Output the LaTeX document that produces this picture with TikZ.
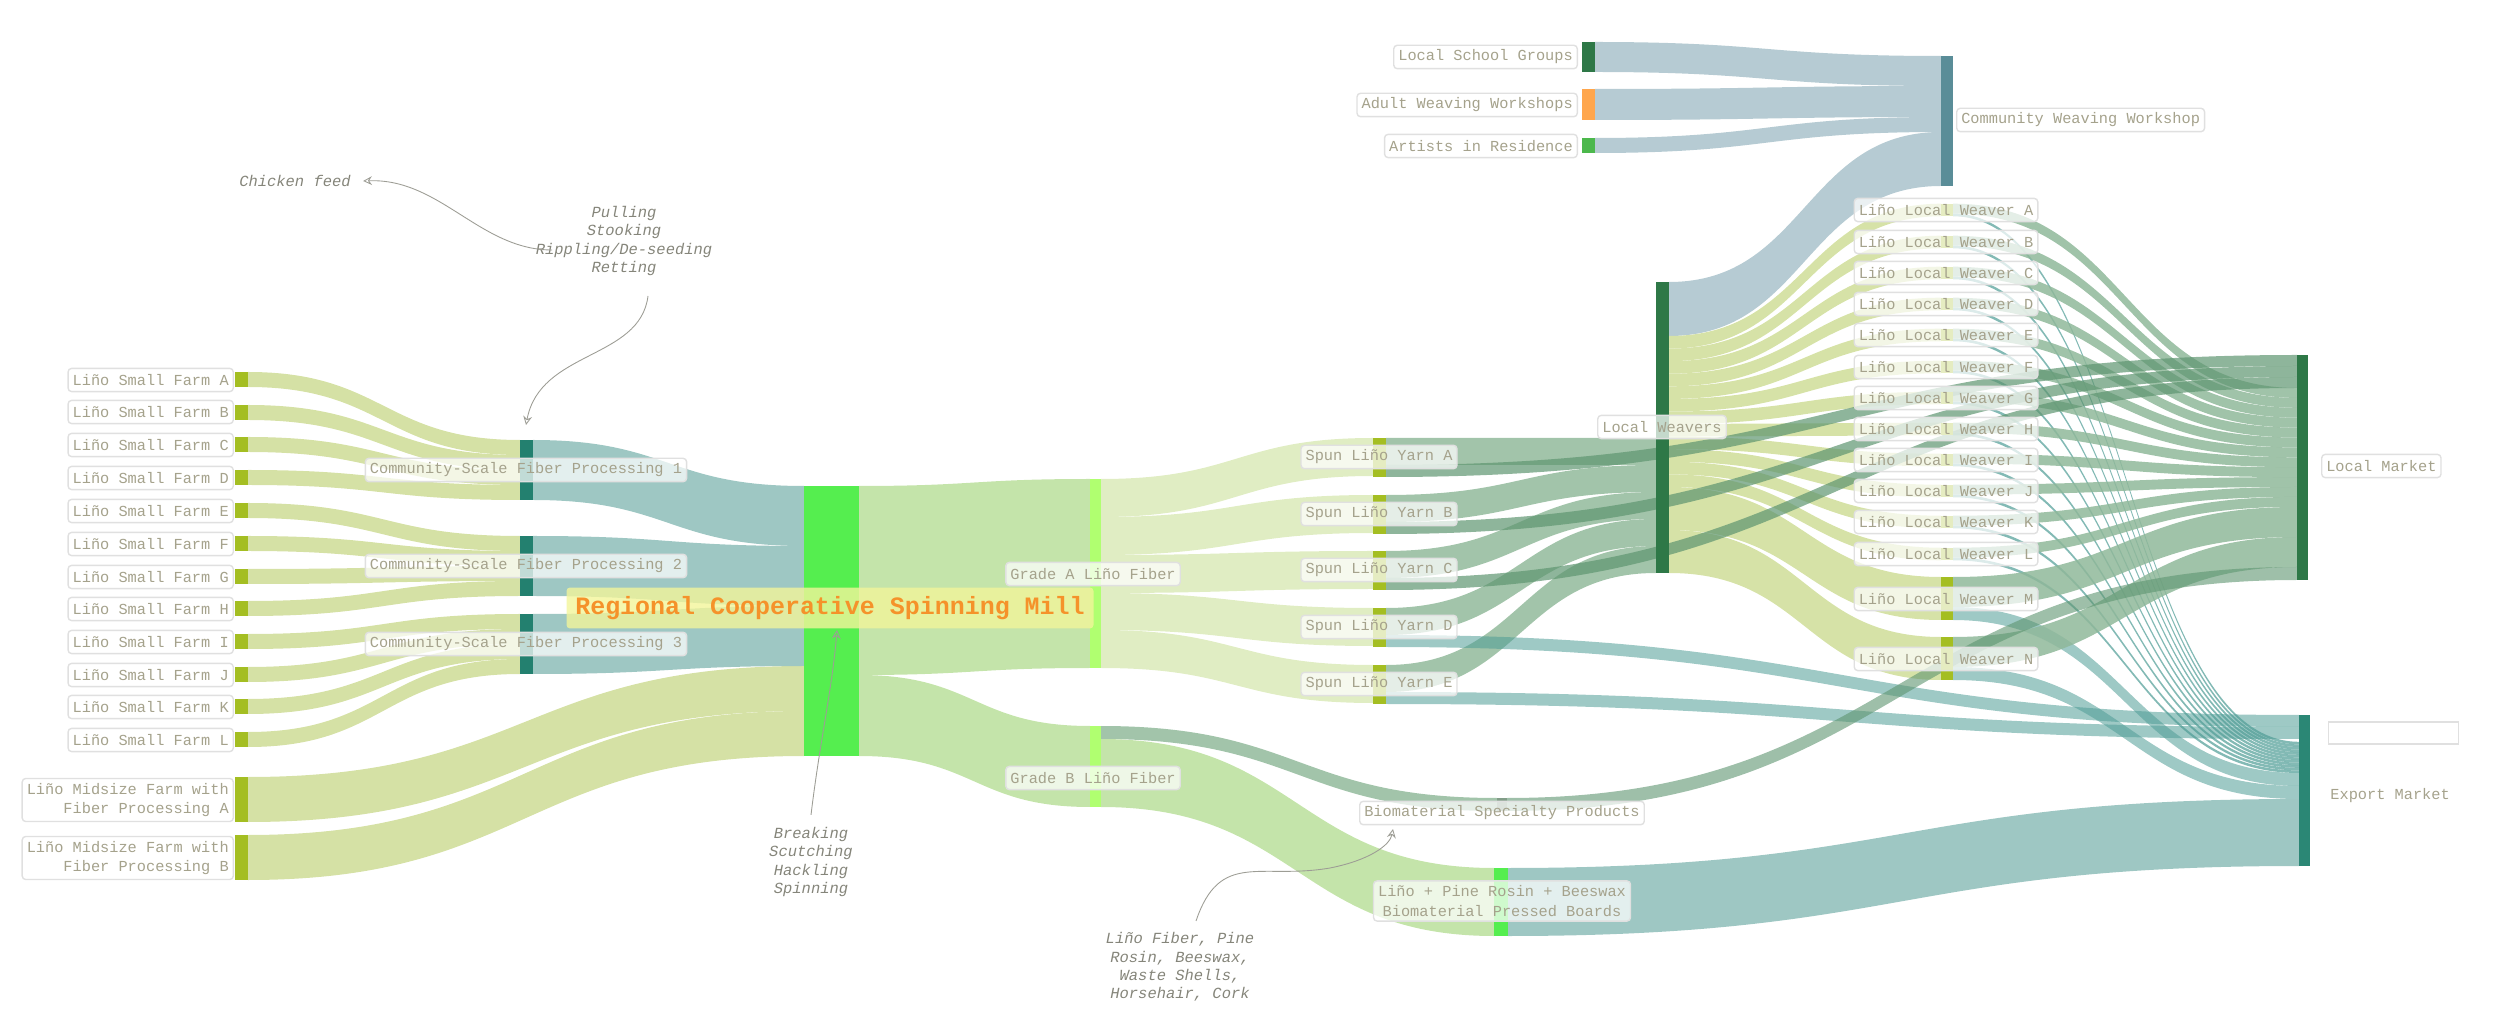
\documentclass[tikz,border=0pt]{standalone}
\usepackage{fontspec}
\setmonofont{Liberation Mono}
\usetikzlibrary{arrows.meta}
\definecolor{farmflow}{HTML}{D5E1A5}
\definecolor{farmnode}{HTML}{A4BE22}
\definecolor{csfpnode}{HTML}{23806F}
\definecolor{tealflow}{HTML}{9EC7C3}
\definecolor{millnode}{HTML}{55EE4F}
\definecolor{millflow}{HTML}{C4E4AA}
\definecolor{gradenode}{HTML}{B0FF70}
\definecolor{yarnflow}{HTML}{E0EDC3}
\definecolor{ylw}{HTML}{A2C4AA}
\definecolor{ylm}{HTML}{5E9570}
\definecolor{lwnode}{HTML}{2E7847}
\definecolor{cwwflow}{HTML}{B6CBD3}
\definecolor{cwwnode}{HTML}{5A8D98}
\definecolor{lwflow}{HTML}{D6E2A7}
\definecolor{toLM}{HTML}{8FB89A}
\definecolor{toEX}{HTML}{4E9C95}
\definecolor{exnode}{HTML}{2B8775}
\definecolor{labc}{HTML}{A5A28C}
\definecolor{annc}{HTML}{85857A}
\definecolor{millfill}{HTML}{F2F59A}
\definecolor{millt}{HTML}{F5922A}
\newcommand\sflow[7]{\fill[#1] (#2,#3) .. controls ({(#2+#5)/2},#3) and ({(#2+#5)/2},#6) .. (#5,#6) -- (#5,#7) .. controls ({(#2+#5)/2},#7) and ({(#2+#5)/2},#4) .. (#2,#4) -- cycle;}
\tikzset{
 lab/.style={draw=black!12, fill=white, fill opacity=0.72, text opacity=1, rounded corners=1pt, inner sep=1.3pt, minimum height=6.6pt, text=labc, font=\ttfamily\fontsize{4.35}{5.6}\selectfont},
 ann/.style={text=annc, font=\ttfamily\itshape\fontsize{4.4}{5.2}\selectfont, align=center},
 aarr/.style={draw=annc!80, line width=0.25pt, -{Stealth[open,length=2.5pt,width=2.5pt]}}
}
\begin{document}
\begin{tikzpicture}[x=0.01cm,y=-0.01cm]
\useasboundingbox (0,0) rectangle (2500,1022);
% farm flows
\sflow{farmflow}{248}{372}{387}{520}{440}{455}
\sflow{farmflow}{248}{405}{420}{520}{455}{470}
\sflow{farmflow}{248}{437}{452}{520}{470}{485}
\sflow{farmflow}{248}{470}{485}{520}{485}{500}
\sflow{farmflow}{248}{503}{518}{520}{536}{551}
\sflow{farmflow}{248}{536}{551}{520}{551}{566}
\sflow{farmflow}{248}{569}{584}{520}{566}{581}
\sflow{farmflow}{248}{601}{616}{520}{581}{596}
\sflow{farmflow}{248}{634}{649}{520}{614}{629}
\sflow{farmflow}{248}{667}{682}{520}{629}{644}
\sflow{farmflow}{248}{699}{714}{520}{644}{659}
\sflow{farmflow}{248}{732}{747}{520}{659}{674}
\sflow{farmflow}{248}{777}{822}{804}{666}{711}
\sflow{farmflow}{248}{835}{880}{804}{711}{756}
% csfp to mill
\sflow{tealflow}{533}{440}{500}{804}{486}{546}
\sflow{tealflow}{533}{536}{596}{804}{546}{606}
\sflow{tealflow}{533}{614}{674}{804}{606}{666}
% mill out
\sflow{millflow}{859}{486}{675}{1090}{479}{668}
\sflow{millflow}{859}{675}{756}{1090}{726}{807}
% grade A to yarns
\sflow{yarnflow}{1101}{479}{517}{1373}{438}{476}
\sflow{yarnflow}{1101}{517}{555}{1373}{495}{533}
\sflow{yarnflow}{1101}{555}{593}{1373}{551}{589}
\sflow{yarnflow}{1101}{593}{630}{1373}{608}{646}
\sflow{yarnflow}{1101}{630}{668}{1373}{665}{703}
% grade B
\sflow{ylw}{1101}{726}{739}{1497}{798}{811}
\sflow{millflow}{1101}{739}{807}{1494}{868}{936}
% yarn to LW
\sflow{ylw}{1386}{438}{465}{1656}{438}{465}
\sflow{ylw}{1386}{495}{522}{1656}{465}{492}
\sflow{ylw}{1386}{551}{578}{1656}{492}{519}
\sflow{ylw}{1386}{608}{635}{1656}{519}{546}
\sflow{ylw}{1386}{665}{692}{1656}{546}{573}
% CWW inputs
\sflow{cwwflow}{1595}{42}{72}{1941}{56}{86}
\sflow{cwwflow}{1595}{89}{120}{1941}{86}{117}
\sflow{cwwflow}{1595}{138}{153}{1941}{117}{132}
\sflow{cwwflow}{1669}{282}{336}{1941}{132}{186}
% LW to weavers
\foreach \c [count=\i from 0] in {210,242,273,304,335,367,398,429,460,491,522,554} {
 \pgfmathsetmacro\lt{336+12.58*\i}
 \pgfmathsetmacro\lb{\lt+12.58}
 \pgfmathsetmacro\nt{\c-6.29}
 \pgfmathsetmacro\nb{\c+6.29}
 \sflow{lwflow}{1669}{\lt}{\lb}{1941}{\nt}{\nb}
}
\sflow{lwflow}{1669}{487}{530}{1941}{577}{620}
\sflow{lwflow}{1669}{530}{573}{1941}{637}{680}
% weaver outputs
\foreach \c [count=\i from 0] in {210,242,273,304,335,367,398,429,460,491,522,554} {
 \pgfmathsetmacro\nt{\c-6.29}
 \pgfmathsetmacro\nb{\c+6.29}
 \pgfmathsetmacro\nm{\nt+9.9}
 \pgfmathsetmacro\mt{388+9.9*\i}
 \pgfmathsetmacro\mb{\mt+9.9}
 \pgfmathsetmacro\et{741.8+2.6*\i}
 \pgfmathsetmacro\eb{\et+2.6}
 \sflow{toLM,fill opacity=.85}{1953}{\nt}{\nm}{2297}{\mt}{\mb}
 \sflow{toEX,fill opacity=.7}{1953}{\nm}{\nb}{2299}{\et}{\eb}
}
\sflow{toLM,fill opacity=.85}{1953}{577}{607}{2297}{507}{537}
\sflow{toEX,fill opacity=.55}{1953}{607}{620}{2299}{773}{786}
\sflow{toLM,fill opacity=.85}{1953}{637}{667}{2297}{537}{567}
\sflow{toEX,fill opacity=.55}{1953}{667}{680}{2299}{786}{799}
% yarn to LM / export
\sflow{ylm,fill opacity=.7}{1386}{465}{477}{2297}{355}{366}
\sflow{ylm,fill opacity=.7}{1386}{522}{534}{2297}{366}{377}
\sflow{ylm,fill opacity=.7}{1386}{578}{590}{2297}{377}{388}
\sflow{toEX,fill opacity=.55}{1386}{635}{647}{2299}{715}{727}
\sflow{toEX,fill opacity=.55}{1386}{692}{704}{2299}{727}{739}
% BSP to LM, boards to export
\sflow{ylm,fill opacity=.6}{1507}{798}{811}{2297}{567}{580}
\sflow{tealflow}{1508}{868}{936}{2299}{799}{866}
% nodes
\foreach \t/\b in {372/387,405/420,437/452,470/485,503/518,536/551,569/584,601/616,634/649,667/682,699/714,732/747,777/822,835/880}
 \fill[farmnode] (235,\t) rectangle (248,\b);
\foreach \t/\b in {440/500,536/596,614/674} \fill[csfpnode] (520,\t) rectangle (533,\b);
\fill[millnode] (804,486) rectangle (859,756);
\fill[gradenode] (1090,479) rectangle (1101,668);
\fill[gradenode] (1090,726) rectangle (1101,807);
\foreach \t/\b in {438/477,495/534,551/590,608/647,665/704} \fill[farmnode] (1373,\t) rectangle (1386,\b);
\fill[ylw!80!black] (1497,798) rectangle (1507,811);
\fill[millnode] (1494,868) rectangle (1508,936);
\fill[lwnode] (1656,282) rectangle (1669,573);
\fill[lwnode] (1582,42) rectangle (1595,72);
\fill[orange!70] (1582,89) rectangle (1595,120);
\fill[green!60!black!70] (1582,138) rectangle (1595,153);
\fill[cwwnode] (1941,56) rectangle (1953,186);
\foreach \c in {210,242,273,304,335,367,398,429,460,491,522,554} \fill[farmnode] (1941,\c-6.29) rectangle (1953,\c+6.29);
\fill[farmnode] (1941,577) rectangle (1953,620);
\fill[farmnode] (1941,637) rectangle (1953,680);
\fill[lwnode] (2297,355) rectangle (2308,580);
\fill[exnode] (2299,715) rectangle (2310,866);
% labels
\foreach \y/\l in {380/A,412/B,445/C,478/D,511/E,544/F,577/G,609/H,642/I,675/J,707/K,740/L}
 \node[lab,anchor=east] (farm\l) at (234,\y) {Liño Small Farm \l};
\node[lab,anchor=east,align=right] (midA) at (234,800) {Liño Midsize Farm with\\Fiber Processing A};
\node[lab,anchor=east,align=right] (midB) at (234,858) {Liño Midsize Farm with\\Fiber Processing B};
\node[lab] (csfp1) at (526,470) {Community-Scale Fiber Processing 1};
\node[lab] (csfp2) at (526,566) {Community-Scale Fiber Processing 2};
\node[lab] (csfp3) at (526,644) {Community-Scale Fiber Processing 3};
\node[fill=millfill,fill opacity=.8,text opacity=1,text=millt,rounded corners=1pt,inner sep=2.5pt,font=\ttfamily\bfseries\fontsize{7.1}{8}\selectfont] (mill) at (830,608) {Regional Cooperative Spinning Mill};
\node[lab] (gradeA) at (1093,574) {Grade A Liño Fiber};
\node[lab] (gradeB) at (1093,778) {Grade B Liño Fiber};
\foreach \y/\l in {457/A,514/B,570/C,627/D,684/E} \node[lab] (yarn\l) at (1379,\y) {Spun Liño Yarn \l};
\node[lab] (bsp) at (1502,813) {Biomaterial Specialty Products};
\node[lab,align=center] (boards) at (1502,901) {Liño + Pine Rosin + Beeswax\\Biomaterial Pressed Boards};
\node[lab] (lw) at (1662,427) {Local Weavers};
\node[lab,anchor=east] (school) at (1578,57) {Local School Groups};
\node[lab,anchor=east] (adult) at (1578,105) {Adult Weaving Workshops};
\node[lab,anchor=east] (artists) at (1578,146) {Artists in Residence};
\node[lab,anchor=west] (cww) at (1956,120) {Community Weaving Workshop};
\foreach \c/\l in {210/A,242/B,273/C,304/D,335/E,367/F,398/G,429/H,460/I,491/J,522/K,554/L,599/M,659/N}
 \node[lab] (weaver\l) at (1946,\c) {Liño Local Weaver \l};
\node[lab,anchor=west] (lm) at (2321,466) {Local Market};
\draw[black!12,line width=0.3pt] (2328,722) rectangle (2458,744);
\node[anchor=west,text=labc,font=\ttfamily\fontsize{4.35}{5.6}\selectfont] (ex) at (2318,796) {Export Market};
% annotations
\node[ann] (chick) at (295,181) {Chicken feed};
\node[ann] (pull) at (624,241) {Pulling\\Stooking\\Rippling/De-seeding\\Retting};
\node[ann] (brk) at (811,862) {Breaking\\Scutching\\Hackling\\Spinning};
\node[ann] (fib) at (1180,967) {Liño Fiber, Pine\\Rosin, Beeswax,\\Waste Shells,\\Horsehair, Cork};
\coordinate (c1) at (552,250);
\coordinate (c2) at (648,296);
\coordinate (c3) at (526,425);
\coordinate (c4) at (837,630);
\coordinate (c5) at (1196,921);
\coordinate (c6) at (1393,829);
\draw[aarr] (c1) .. controls (480,250) and (440,178) .. (chick.east);
\draw[aarr] (c2) .. controls (640,360) and (540,350) .. (c3);
\draw[aarr] (brk.north) .. controls (820,740) and (832,690) .. (c4);
\draw[aarr] (c5) .. controls (1220,850) and (1260,880) .. (1330,868) .. controls (1370,860) and (1390,845) .. (c6);
\end{tikzpicture}
\end{document}
